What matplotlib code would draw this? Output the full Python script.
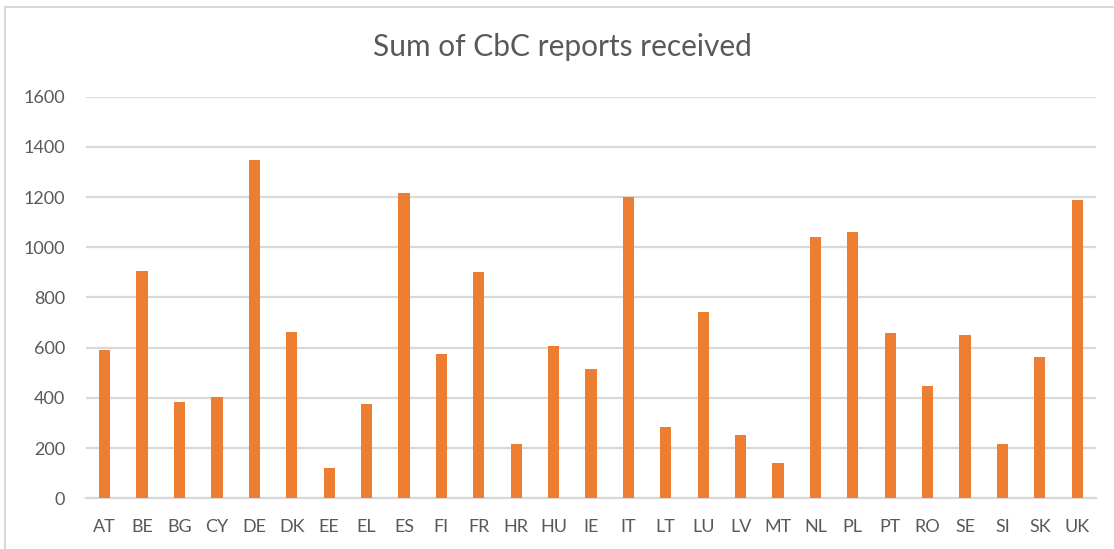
import matplotlib.pyplot as plt
import numpy as np
from matplotlib.lines import Line2D

countries = ["AT", "BE", "BG", "CY", "DE", "DK", "EE", "EL", "ES", "FI", "FR", "HR", "HU",
             "IE", "IT", "LT", "LU", "LV", "MT", "NL", "PL", "PT", "RO", "SE", "SI", "SK", "UK"]
reports = [590, 906, 385, 404, 1348, 664, 120, 376, 1216, 576, 902, 218, 608,
           515, 1199, 283, 744, 251, 139, 1041, 1060, 659, 446, 651, 218, 563, 1190]
yticks = [0, 200, 400, 600, 800, 1000, 1200, 1400, 1600]

TEXT = "#595959"
GRID = "#d9d9d9"
BAR = "#ED7D31"

plt.rcParams['font.family'] = ['Lato', 'DejaVu Sans']

fig = plt.figure(figsize=(11.14, 5.49), dpi=100)
ax = fig.add_axes([0.0772, 0.0924, 0.9066, 0.7315])

x = np.arange(len(countries))
ax.bar(x, reports, width=0.30, color=BAR, zorder=3)

ax.set_xlim(-0.5, len(countries) - 0.5)
ax.set_ylim(0, 1600)
ax.set_yticks(yticks)
ax.set_xticks(x)
ax.set_xticklabels(countries)
ax.grid(axis="y", color=GRID, linewidth=1.6, zorder=0)
for s in ["top", "right", "left"]:
    ax.spines[s].set_visible(False)
ax.spines["bottom"].set_color(GRID)
ax.spines["bottom"].set_linewidth(1.6)
ax.tick_params(axis="both", length=0, colors=TEXT, labelsize=13)
ax.tick_params(axis="y", pad=15)
ax.tick_params(axis="x", pad=15)

fig.text(0.505, 0.915, "Sum of CbC reports received", ha="center", va="center",
         fontsize=21.5, color=TEXT)

# chart frame (top and left edges visible in the crop)
fig.add_artist(Line2D([5 / 1114, 1], [1 - 7 / 549, 1 - 7 / 549], transform=fig.transFigure,
                      color=GRID, linewidth=1.5))
fig.add_artist(Line2D([5 / 1114, 5 / 1114], [0, 1 - 7 / 549], transform=fig.transFigure,
                      color=GRID, linewidth=1.5))

fig.savefig("out.png", dpi=100, facecolor="white")
